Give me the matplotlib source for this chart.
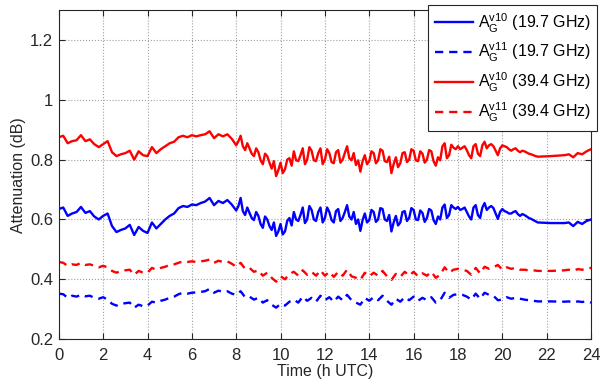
import numpy as np
import matplotlib.pyplot as plt

plt.rcParams['font.family'] = ['Liberation Sans', 'DejaVu Sans']
plt.rcParams['mathtext.fontset'] = 'custom'
plt.rcParams['mathtext.rm'] = 'Liberation Sans'

# time axis (h UTC)
tail_hours = [22.2, 22.8, 23.0, 23.2, 23.4, 23.6, 23.8, 24.0]
# v11 series: 0.2 h samples up to 21.6 h
hours = np.concatenate([np.round(np.arange(0, 21.61, 0.2), 1), tail_hours])
# v10 series: 0.2 h until 7.8 h, 0.1 h in the noisy part
hours_fine = np.concatenate([np.round(np.arange(0, 7.81, 0.2), 1),
                             np.round(np.arange(8.0, 21.61, 0.1), 1), tail_hours])

# A_G^v10 at 19.7 GHz
ag10_k = [0.635, 0.640, 0.612, 0.620, 0.625, 0.642, 0.622, 0.628, 0.610, 0.600,
          0.612, 0.620, 0.578, 0.558, 0.565, 0.570, 0.582, 0.548, 0.575, 0.562,
          0.555, 0.590, 0.570, 0.585, 0.600, 0.612, 0.620, 0.638, 0.645, 0.642,
          0.650, 0.648, 0.655, 0.660, 0.672, 0.648, 0.662, 0.655, 0.665, 0.650,
          # 8.0 h onwards, 0.1 h steps
          0.630, 0.645, 0.672, 0.628, 0.615, 0.640, 0.622, 0.605, 0.598, 0.625,
          0.612, 0.585, 0.572, 0.610, 0.600, 0.578, 0.565, 0.590, 0.545, 0.560,
          0.585, 0.550, 0.560, 0.595, 0.605, 0.580, 0.625, 0.600, 0.595, 0.615,
          0.640, 0.588, 0.600, 0.645, 0.632, 0.600, 0.595, 0.625, 0.640, 0.590,
          0.605, 0.640, 0.625, 0.598, 0.590, 0.628, 0.635, 0.595, 0.605, 0.625,
          0.648, 0.610, 0.600, 0.625, 0.585, 0.600, 0.562, 0.598, 0.620, 0.590,
          0.598, 0.632, 0.625, 0.592, 0.600, 0.638, 0.635, 0.600, 0.595, 0.615,
          0.560, 0.590, 0.612, 0.580, 0.590, 0.625, 0.628, 0.595, 0.605, 0.638,
          0.632, 0.600, 0.598, 0.630, 0.622, 0.592, 0.605, 0.635, 0.630, 0.598,
          0.585, 0.610, 0.600, 0.640, 0.650, 0.605, 0.615, 0.648, 0.640, 0.635,
          0.642, 0.632, 0.635, 0.640, 0.625, 0.610, 0.600, 0.640, 0.648, 0.615,
          0.605, 0.640, 0.655, 0.632, 0.640, 0.645, 0.638, 0.620, 0.602, 0.625,
          0.635, 0.628, 0.625, 0.620, 0.620, 0.625, 0.628, 0.618, 0.612, 0.618,
          0.615, 0.610, 0.605, 0.602, 0.598, 0.594, 0.590,
          0.588, 0.588, 0.590, 0.578, 0.592, 0.585, 0.595, 0.600]

# A_G^v10 at 39.4 GHz
ag10_ka = [0.875, 0.880, 0.855, 0.862, 0.865, 0.882, 0.862, 0.868, 0.852, 0.842,
           0.852, 0.862, 0.825, 0.812, 0.818, 0.822, 0.830, 0.800, 0.828, 0.815,
           0.812, 0.842, 0.822, 0.835, 0.845, 0.855, 0.860, 0.875, 0.880, 0.875,
           0.882, 0.878, 0.882, 0.885, 0.895, 0.872, 0.885, 0.878, 0.885, 0.870,
           # 8.0 h onwards, 0.1 h steps
           0.848, 0.862, 0.880, 0.845, 0.832, 0.855, 0.838, 0.820, 0.812, 0.838,
           0.825, 0.798, 0.785, 0.820, 0.812, 0.790, 0.770, 0.795, 0.745, 0.765,
           0.790, 0.755, 0.768, 0.800, 0.805, 0.780, 0.828, 0.798, 0.795, 0.815,
           0.838, 0.785, 0.800, 0.842, 0.830, 0.798, 0.795, 0.822, 0.838, 0.785,
           0.800, 0.835, 0.822, 0.792, 0.788, 0.825, 0.832, 0.790, 0.800, 0.822,
           0.845, 0.805, 0.798, 0.822, 0.782, 0.798, 0.760, 0.795, 0.815, 0.785,
           0.795, 0.828, 0.822, 0.788, 0.798, 0.835, 0.830, 0.795, 0.792, 0.810,
           0.755, 0.785, 0.808, 0.775, 0.788, 0.822, 0.825, 0.792, 0.800, 0.835,
           0.830, 0.798, 0.795, 0.828, 0.820, 0.790, 0.800, 0.832, 0.828, 0.795,
           0.780, 0.808, 0.798, 0.845, 0.855, 0.805, 0.815, 0.850, 0.840, 0.835,
           0.845, 0.835, 0.840, 0.845, 0.832, 0.815, 0.805, 0.845, 0.852, 0.820,
           0.812, 0.848, 0.860, 0.838, 0.848, 0.852, 0.845, 0.830, 0.815, 0.838,
           0.848, 0.845, 0.842, 0.835, 0.830, 0.835, 0.838, 0.830, 0.825, 0.830,
           0.828, 0.824, 0.820, 0.818, 0.815, 0.812, 0.810,
           0.812, 0.815, 0.818, 0.808, 0.822, 0.818, 0.828, 0.835]

# A_G^v11 at 19.7 GHz
ag11_k = [0.352, 0.350, 0.338, 0.345, 0.342, 0.348, 0.343, 0.345, 0.338, 0.335,
          0.340, 0.332, 0.318, 0.312, 0.318, 0.320, 0.322, 0.305, 0.315, 0.310,
          0.312, 0.325, 0.322, 0.328, 0.332, 0.338, 0.342, 0.350, 0.355, 0.352,
          0.355, 0.356, 0.358, 0.360, 0.368, 0.355, 0.362, 0.358, 0.360, 0.352,
          0.348, 0.360, 0.340, 0.342, 0.332, 0.338, 0.322, 0.330, 0.315, 0.305,
          0.318, 0.312, 0.325, 0.332, 0.322, 0.342, 0.328, 0.338, 0.325, 0.345,
          0.330, 0.340, 0.325, 0.342, 0.330, 0.348, 0.330, 0.322, 0.315, 0.338,
          0.328, 0.340, 0.330, 0.345, 0.328, 0.315, 0.335, 0.325, 0.340, 0.330,
          0.342, 0.328, 0.338, 0.330, 0.340, 0.322, 0.330, 0.355, 0.338, 0.348,
          0.350, 0.348, 0.342, 0.332, 0.352, 0.335, 0.355, 0.348, 0.345, 0.330,
          0.332, 0.340, 0.335, 0.338, 0.335, 0.332, 0.330, 0.328, 0.326,
          0.326, 0.325, 0.326, 0.322, 0.326, 0.324, 0.326, 0.322]

# A_G^v11 at 39.4 GHz
ag11_ka = [0.458, 0.455, 0.445, 0.450, 0.448, 0.455, 0.448, 0.450, 0.445, 0.440,
           0.445, 0.440, 0.428, 0.422, 0.428, 0.430, 0.432, 0.415, 0.428, 0.422,
           0.422, 0.438, 0.432, 0.438, 0.442, 0.448, 0.450, 0.455, 0.460, 0.458,
           0.460, 0.458, 0.460, 0.462, 0.466, 0.455, 0.462, 0.458, 0.460, 0.452,
           0.442, 0.455, 0.435, 0.438, 0.425, 0.430, 0.412, 0.422, 0.405, 0.392,
           0.410, 0.400, 0.418, 0.425, 0.412, 0.430, 0.415, 0.425, 0.412, 0.430,
           0.412, 0.425, 0.408, 0.425, 0.412, 0.432, 0.410, 0.405, 0.398, 0.422,
           0.410, 0.422, 0.412, 0.428, 0.410, 0.398, 0.418, 0.408, 0.425, 0.412,
           0.425, 0.410, 0.420, 0.412, 0.425, 0.405, 0.415, 0.440, 0.422, 0.432,
           0.435, 0.432, 0.428, 0.415, 0.438, 0.420, 0.442, 0.435, 0.440, 0.448,
           0.432, 0.440, 0.435, 0.438, 0.432, 0.432, 0.430, 0.430, 0.428,
           0.428, 0.430, 0.432, 0.428, 0.434, 0.432, 0.436, 0.438]

labels = [r'$\mathregular{A_G^{v10}}$ (19.7 GHz)',
          r'$\mathregular{A_G^{v11}}$ (19.7 GHz)',
          r'$\mathregular{A_G^{v10}}$ (39.4 GHz)',
          r'$\mathregular{A_G^{v11}}$ (39.4 GHz)']

fig = plt.figure(figsize=(6, 3.92), dpi=100)
ax = fig.add_axes([0.098, 0.135, 0.887, 0.839])

dash = (0, (3.5, 2.5))
ax.plot(hours_fine, ag10_k, color='#0000ff', lw=1.7, label=labels[0])
ax.plot(hours, ag11_k, color='#0000ff', lw=1.7, ls=dash, label=labels[1])
ax.plot(hours_fine, ag10_ka, color='#ff0000', lw=1.7, label=labels[2])
ax.plot(hours, ag11_ka, color='#ff0000', lw=1.7, ls=dash, label=labels[3])

ax.set_xlim(0, 24)
ax.set_ylim(0.2, 1.3)
ax.set_xticks(np.arange(0, 25, 2))
ax.set_yticks([0.2, 0.4, 0.6, 0.8, 1.0, 1.2])
ax.set_yticklabels(['0.2', '0.4', '0.6', '0.8', '1', '1.2'])
ax.tick_params(direction='in', top=True, right=True, labelsize=12, length=4,
               colors='#262626')
ax.tick_params(axis='x', pad=6.5)
ax.tick_params(axis='y', pad=4)
ax.grid(True, ls=':', color='#a0a0a0', lw=0.8)
for s in ax.spines.values():
    s.set_linewidth(0.8)
    s.set_color('#262626')

ax.set_xlabel('Time (h UTC)', fontsize=11.5, color='#262626', labelpad=1)
ax.set_ylabel('Attenuation (dB)', fontsize=11.5, color='#262626', labelpad=3)

leg = ax.legend(loc='upper right', bbox_to_anchor=(1.012, 1.016), fontsize=11.5,
                fancybox=False, edgecolor='#262626', framealpha=1,
                handlelength=2.4, handletextpad=0.3, labelspacing=0.42,
                borderpad=0.4, borderaxespad=0)
leg.get_frame().set_linewidth(0.8)

fig.savefig('out.png', dpi=100)
